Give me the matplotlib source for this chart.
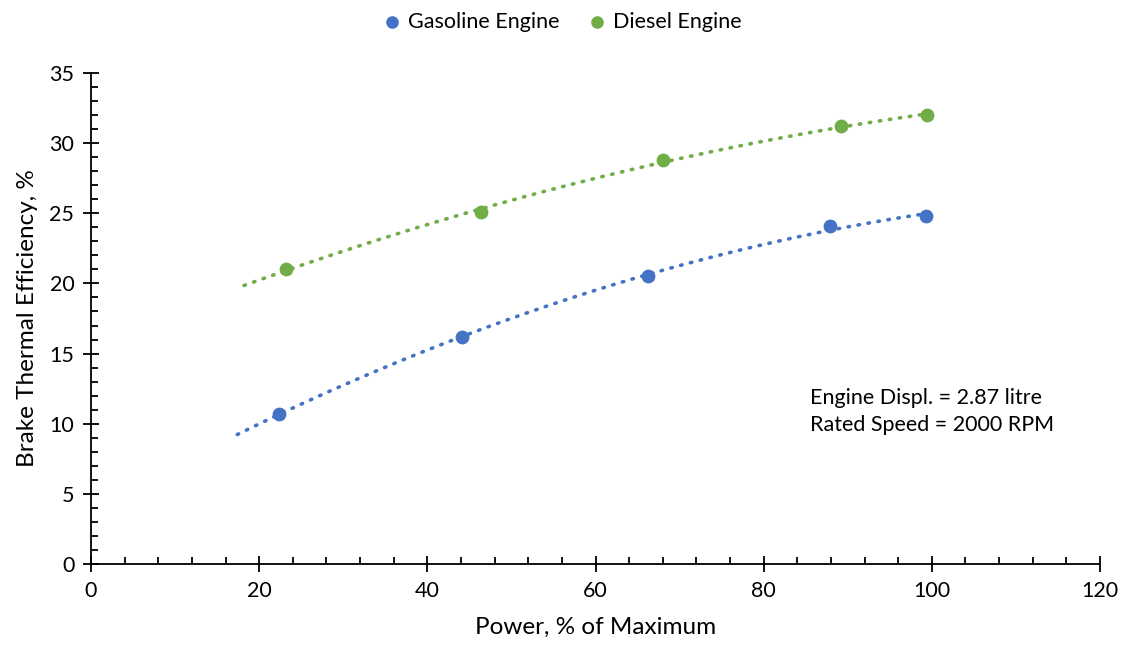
import matplotlib.pyplot as plt
from matplotlib.ticker import MultipleLocator
import numpy as np

plt.rcParams['font.family'] = ['Lato', 'DejaVu Sans']

# data
gas_power = [22.4, 44.1, 66.3, 87.9, 99.3]
gas_eff = [10.7, 16.2, 20.5, 24.1, 24.8]
diesel_power = [23.2, 46.4, 68.0, 89.2, 99.4]
diesel_eff = [21.0, 25.1, 28.8, 31.2, 32.0]

blue = '#4472C4'
green = '#70AD47'

fig = plt.figure(figsize=(11.25, 6.5), dpi=100)
ax = fig.add_axes([0.0809, 0.1323, 0.8969, 0.7554])

# polynomial (order 2) trendlines, forecast back 5 units
for px, py, c in [(gas_power, gas_eff, blue), (diesel_power, diesel_eff, green)]:
    coef = np.polyfit(px, py, 2)
    xs = np.linspace(min(px) - 5, max(px), 200)
    ax.plot(xs, np.polyval(coef, xs), color=c, lw=2.6, ls=(0, (0.4, 2.4)),
            dash_capstyle='round', zorder=2)

ax.scatter(gas_power, gas_eff, s=80, color=blue, label='Gasoline Engine', zorder=3)
ax.scatter(diesel_power, diesel_eff, s=80, color=green, label='Diesel Engine', zorder=3)

ax.set_xlim(0, 120)
ax.set_ylim(0, 35)
ax.xaxis.set_major_locator(MultipleLocator(20))
ax.xaxis.set_minor_locator(MultipleLocator(4))
ax.yaxis.set_major_locator(MultipleLocator(5))
ax.yaxis.set_minor_locator(MultipleLocator(1))
ax.tick_params(which='major', direction='inout', length=12, width=1.3, labelsize=15.5, colors='black', pad=6)
ax.tick_params(which='minor', direction='in', length=5, width=1.3)
for side in ['top', 'right']:
    ax.spines[side].set_visible(False)
for side in ['left', 'bottom']:
    ax.spines[side].set_linewidth(1.3)

ax.set_xlabel('Power, % of Maximum', fontsize=17.5, labelpad=12)
ax.set_ylabel('Brake Thermal Efficiency, %', fontsize=17.5, labelpad=8)

ax.text(0.713, 0.31, 'Engine Displ. = 2.87 litre\nRated Speed = 2000 RPM',
        transform=ax.transAxes, fontsize=15.5, linespacing=1.45, va='center')

fig.legend(loc='upper center', bbox_to_anchor=(0.5, 1.012), ncol=2, frameon=False,
           fontsize=15.5, handlelength=0.8, handletextpad=0.35, columnspacing=1.3,
           markerscale=0.9)

fig.savefig('out.png', dpi=100)
